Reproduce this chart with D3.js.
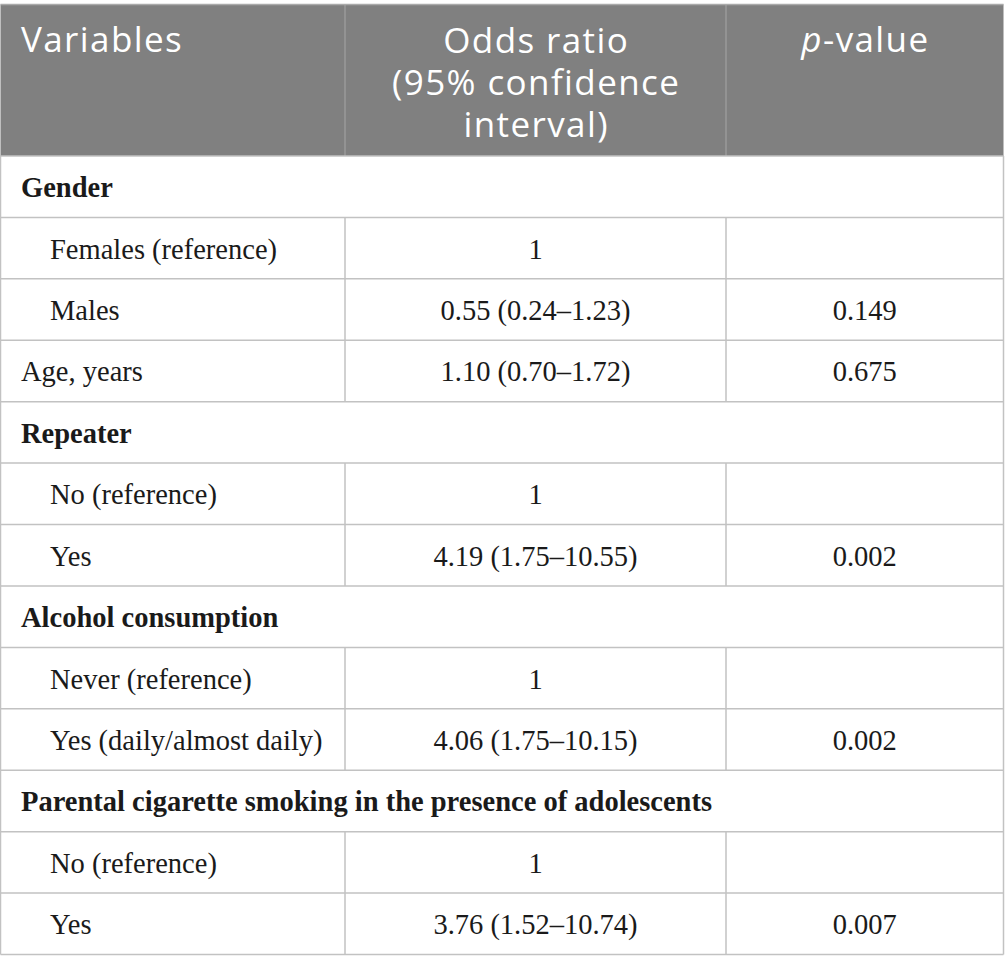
<!DOCTYPE html>
<html><head><meta charset="utf-8">
<script src="https://cdn.jsdelivr.net/npm/d3@7"></script>
<style>html,body{margin:0;padding:0;background:#fff;}</style>
</head><body>
<svg id="chart" width="1005" height="971"></svg>
<script>
const headers = ["Variables", ["Odds ratio", "(95% confidence", "interval)"], "p-value"];
const variables = ["Gender", "Females (reference)", "Males", "Age, years", "Repeater", "No (reference)", "Yes",
  "Alcohol consumption", "Never (reference)", "Yes (daily/almost daily)",
  "Parental cigarette smoking in the presence of adolescents", "No (reference)", "Yes"];
const rowTypes = ["group", "sub", "sub", "plain", "group", "sub", "sub", "group", "sub", "sub", "group", "sub", "sub"];
const oddsRatios = ["", "1", "0.55 (0.24\u20131.23)", "1.10 (0.70\u20131.72)", "", "1", "4.19 (1.75\u201310.55)",
  "", "1", "4.06 (1.75\u201310.15)", "", "1", "3.76 (1.52\u201310.74)"];
const pValues = ["", "", "0.149", "0.675", "", "", "0.002", "", "", "0.002", "", "", "0.007"];

(function () {
const svg = d3.select("#chart");
const colEdges = [0.5, 345, 726, 1003.5];
const tableTop = 4.5, headerBottom = 156, tableBottom = 954.5;
const y = d3.scaleBand().domain(d3.range(variables.length)).range([headerBottom, tableBottom]);
const lineColor = "#c2c2c2";
const serif = "'Liberation Serif', 'Times New Roman', serif";
const sans = "'Open Sans', sans-serif";
const bodySize = 28.5;

// header
svg.append("rect").attr("x", colEdges[0]).attr("y", tableTop).attr("width", colEdges[3] - colEdges[0])
  .attr("height", headerBottom - tableTop).attr("fill", "#808080");
[1, 2].forEach(i => svg.append("line").attr("x1", colEdges[i]).attr("x2", colEdges[i])
  .attr("y1", tableTop).attr("y2", headerBottom).attr("stroke", "#9a9a9a").attr("stroke-width", 1.5));

const hText = svg.append("g").attr("fill", "#fff").attr("font-family", sans).attr("font-size", 35)
  .attr("letter-spacing", 1.4);
hText.append("text").attr("x", 21).attr("y", 52).text(headers[0]);
const c1 = (colEdges[1] + colEdges[2]) / 2 + 0.7;
const multi = hText.append("text").attr("y", 53).attr("text-anchor", "middle");
headers[1].forEach((t, i) => multi.append("tspan").attr("x", c1).attr("dy", i === 0 ? 0 : 42).text(t));
const c2 = (colEdges[2] + colEdges[3]) / 2 + 0.7;
const pv = hText.append("text").attr("x", c2).attr("y", 52).attr("text-anchor", "middle");
pv.append("tspan").attr("font-style", "italic").text(headers[2].slice(0, 1));
pv.append("tspan").text(headers[2].slice(1));

// body rows
const rows = svg.append("g").selectAll("g").data(variables).join("g")
  .attr("transform", (d, i) => `translate(0,${y(i)})`);
const bh = y.bandwidth();

rows.append("text")
  .attr("x", (d, i) => rowTypes[i] === "sub" ? 50 : 21)
  .attr("y", bh / 2 + 10.5)
  .attr("font-family", serif).attr("font-size", bodySize)
  .attr("font-weight", (d, i) => rowTypes[i] === "group" ? "bold" : "normal")
  .attr("fill", "#1a1a1a")
  .text(d => d);
rows.append("text").attr("x", c1 - 0.7).attr("y", bh / 2 + 10.5).attr("text-anchor", "middle")
  .attr("font-family", serif).attr("font-size", bodySize).attr("fill", "#1a1a1a")
  .text((d, i) => oddsRatios[i]);
rows.append("text").attr("x", c2 - 0.7).attr("y", bh / 2 + 10.5).attr("text-anchor", "middle")
  .attr("font-family", serif).attr("font-size", bodySize).attr("fill", "#1a1a1a")
  .text((d, i) => pValues[i]);

// grid lines
const grid = svg.append("g").attr("stroke", lineColor).attr("stroke-width", 1.5);
d3.range(variables.length).forEach(i => {
  grid.append("line").attr("x1", colEdges[0]).attr("x2", colEdges[3])
    .attr("y1", y(i) + bh).attr("y2", y(i) + bh);
  if (rowTypes[i] !== "group") {
    [1, 2].forEach(c => grid.append("line").attr("x1", colEdges[c]).attr("x2", colEdges[c])
      .attr("y1", y(i)).attr("y2", y(i) + bh));
  }
});
grid.append("line").attr("x1", colEdges[0]).attr("x2", colEdges[0]).attr("y1", headerBottom).attr("y2", tableBottom);
grid.append("line").attr("x1", colEdges[3]).attr("x2", colEdges[3]).attr("y1", headerBottom).attr("y2", tableBottom);
svg.append("line").attr("x1", colEdges[0]).attr("x2", colEdges[3]).attr("y1", tableTop).attr("y2", tableTop)
  .attr("stroke", "#aaa").attr("stroke-width", 1.5);
svg.append("line").attr("x1", colEdges[0]).attr("x2", colEdges[3]).attr("y1", headerBottom).attr("y2", headerBottom)
  .attr("stroke", lineColor).attr("stroke-width", 1.5);
})();
</script>
</body></html>
